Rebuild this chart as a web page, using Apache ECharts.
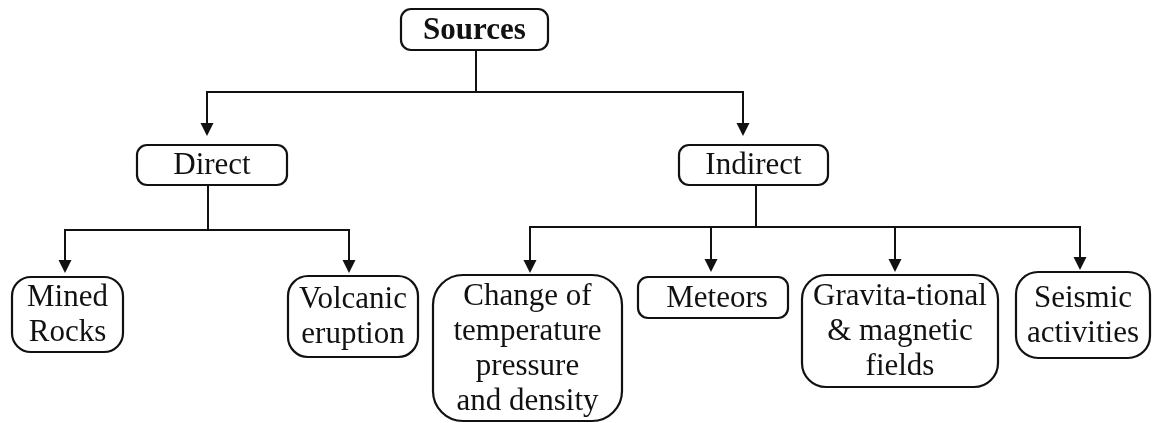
<!DOCTYPE html>
<html>
<head>
<meta charset="utf-8">
<script src="https://cdn.jsdelivr.net/npm/echarts@6/dist/echarts.min.js"></script>
<style>
  html, body { margin: 0; padding: 0; background: #fff; }
  #chart { width: 1152px; height: 423px; }
</style>
</head>
<body>
<div id="chart"></div>
<script>
// 节点文字和父子关系
var nodeNames = [
  'Sources',
  'Direct',
  'Indirect',
  'Mined\nRocks',
  'Volcanic\neruption',
  'Change of\ntemperature\npressure\nand density',
  'Meteors',
  'Gravita-tional\n& magnetic\nfields',
  'Seismic\nactivities'
];
var nodeParents = [-1, 0, 0, 1, 1, 2, 2, 2, 2];

// 版面位置（坐标轴单位），和数据分开
var boxes = [
  [401, 9, 548, 50],
  [137, 145, 287, 185],
  [679, 145, 828, 185],
  [12, 277, 123, 352],
  [288, 276, 418, 357],
  [433, 275, 622, 421],
  [638, 277, 788, 318],
  [802, 275, 998, 387],
  [1016, 272, 1150, 358]
];
var radius = [10, 10, 10, 19, 20, 30, 10, 24, 22];
var textShiftX = [0, 0, 0, 0, 0, 0, 4, 0, 0];
var arrowX = [0, 207, 743, 65, 349, 530, 711, 895, 1080];
var arrowTip = [0, 136, 136, 273, 273, 273, 272, 272, 270];
var stemX = { 0: 476, 1: 208, 2: 756 };
var busY = { 0: 92, 1: 230, 2: 227 };

var LINE = '#111';
var FONT = '31px "Liberation Serif", "DejaVu Serif", serif';
var FONT_BOLD = 'bold 31px "Liberation Serif", "DejaVu Serif", serif';

function renderNode(params, api) {
  var i = params.dataIndex;
  var b = boxes[i];
  var p0 = api.coord([b[0], b[1]]);
  var p1 = api.coord([b[2], b[3]]);
  var x = Math.min(p0[0], p1[0]), y = Math.min(p0[1], p1[1]);
  var w = Math.abs(p1[0] - p0[0]), h = Math.abs(p1[1] - p0[1]);
  return {
    type: 'group',
    children: [
      {
        type: 'rect',
        shape: { x: x, y: y, width: w, height: h, r: radius[i] },
        style: { fill: '#fff', stroke: LINE, lineWidth: 2.2 }
      },
      {
        type: 'text',
        style: {
          text: nodeNames[i],
          x: x + w / 2 + textShiftX[i],
          y: y + h / 2 + 1,
          align: 'center',
          verticalAlign: 'middle',
          font: i === 0 ? FONT_BOLD : FONT,
          lineHeight: 35,
          fill: '#111'
        }
      }
    ]
  };
}

function renderLinks(params, api) {
  var pIdx = params.dataIndex;
  var kids = [];
  for (var k = 0; k < nodeParents.length; k++) {
    if (nodeParents[k] === pIdx) kids.push(k);
  }
  var pb = boxes[pIdx];
  var children = [];
  var top = api.coord([stemX[pIdx], pb[3]]);
  var bus = api.coord([stemX[pIdx], busY[pIdx]]);
  children.push({
    type: 'line',
    shape: { x1: top[0], y1: top[1], x2: bus[0], y2: bus[1] },
    style: { stroke: LINE, lineWidth: 2 }
  });
  var xs = kids.map(function (c) { return api.coord([arrowX[c], busY[pIdx]])[0]; });
  children.push({
    type: 'line',
    shape: { x1: Math.min.apply(null, xs) - 1, y1: bus[1], x2: Math.max.apply(null, xs) + 1, y2: bus[1] },
    style: { stroke: LINE, lineWidth: 2 }
  });
  kids.forEach(function (c) {
    var s = api.coord([arrowX[c], busY[pIdx]]);
    var t = api.coord([arrowX[c], arrowTip[c]]);
    children.push({
      type: 'line',
      shape: { x1: s[0], y1: s[1], x2: t[0], y2: t[1] - 10 },
      style: { stroke: LINE, lineWidth: 2 }
    });
    children.push({
      type: 'polygon',
      shape: { points: [[t[0] - 6.5, t[1] - 13], [t[0] + 6.5, t[1] - 13], [t[0], t[1]]] },
      style: { fill: LINE }
    });
  });
  return { type: 'group', children: children };
}

var option = {
  animation: false,
  grid: { left: 0, right: 0, top: 0, bottom: 0 },
  xAxis: { type: 'value', min: 0, max: 1152, show: false },
  yAxis: { type: 'value', min: 0, max: 423, inverse: true, show: false },
  series: [
    {
      type: 'custom',
      name: 'links',
      renderItem: renderLinks,
      data: [[0], [1], [2]],
      silent: true
    },
    {
      type: 'custom',
      name: 'nodes',
      renderItem: renderNode,
      data: nodeNames.map(function (n, i) { return [i]; }),
      silent: true
    }
  ]
};

echarts.init(document.getElementById('chart')).setOption(option);
</script>
</body>
</html>
